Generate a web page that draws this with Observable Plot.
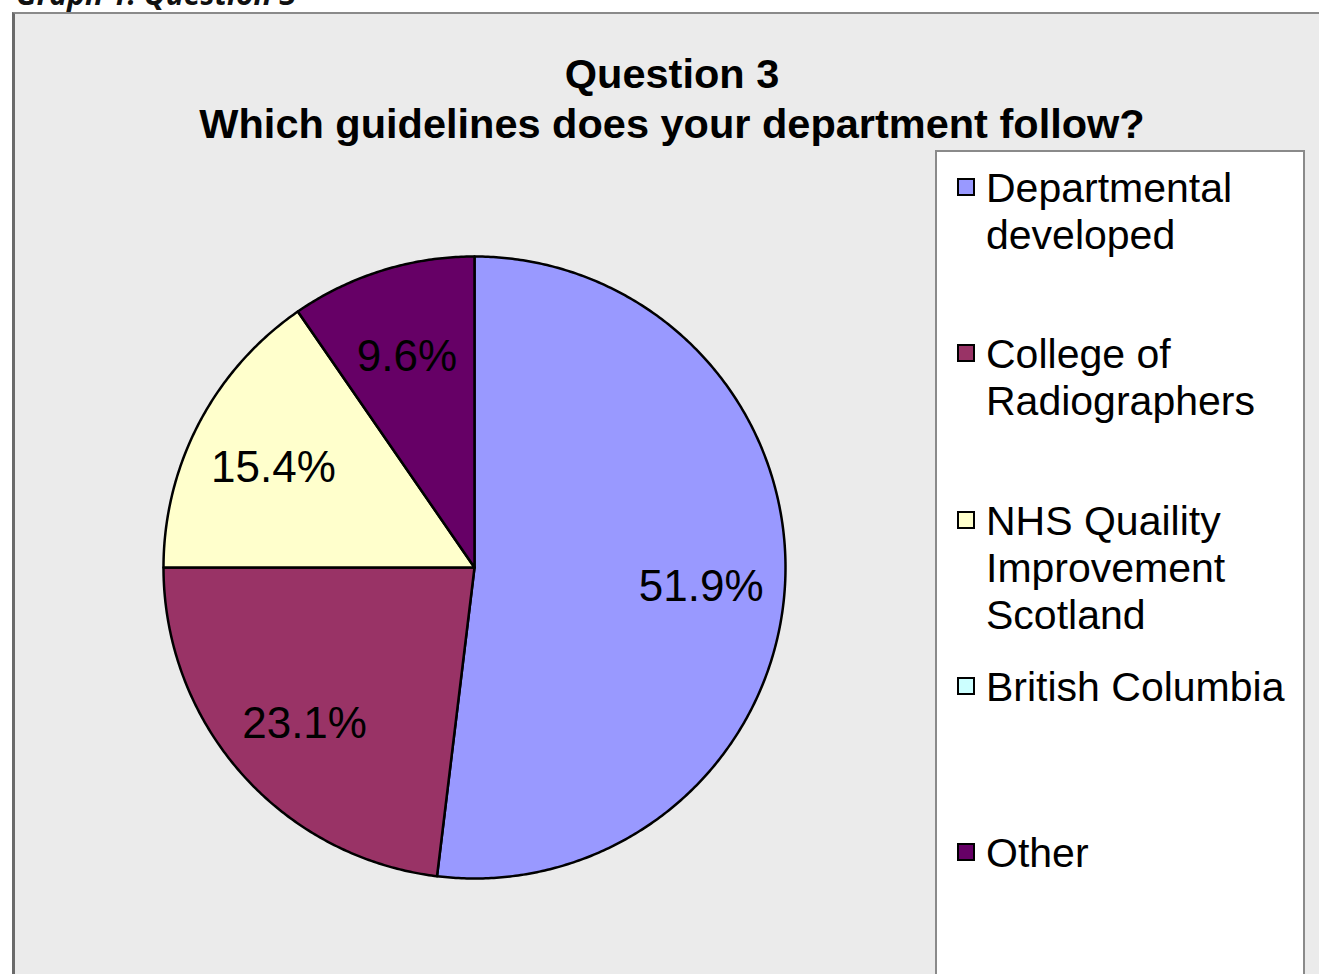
<!DOCTYPE html>
<html>
<head>
<meta charset="utf-8">
<script src="https://cdn.jsdelivr.net/npm/d3@7"></script>
<script src="https://cdn.jsdelivr.net/npm/@observablehq/plot@0.6"></script>
<style>
  html, body { margin: 0; padding: 0; background: #fff; width: 1319px; height: 974px; overflow: hidden; }
  body { position: relative; font-family: "Liberation Sans", Arial, Helvetica, sans-serif; }
  #topcap { position: absolute; left: 16px; top: -27px; font-family: "Open Sans", sans-serif; font-weight: 700; font-style: italic; font-size: 30px; line-height: normal; color: #111; white-space: nowrap; }
  #frame { position: absolute; left: 12px; top: 12px; width: 1320px; height: 1000px; background: #ebebeb; border-top: 2px solid #8a8a8a; border-left: 3px solid #6a6a6a; box-sizing: border-box; }
  .title { position: absolute; left: 12px; width: 1320px; text-align: center; font-family: "Liberation Sans", Arial, sans-serif; font-weight: 700; font-size: 41.5px; color: #000; white-space: nowrap; }
  #legend { position: absolute; left: 935px; top: 150px; width: 370px; height: 900px; background: #fff; border: 2px solid #8a8a8a; box-sizing: border-box; }
  .item { position: absolute; left: 986px; font-family: "Liberation Sans", Arial, sans-serif; font-size: 41px; line-height: 47px; color: #000; white-space: nowrap; }
  .sw { position: absolute; left: 957px; width: 18px; height: 18px; border: 2.5px solid #000; box-sizing: border-box; }
  #pie { position: absolute; left: 154px; top: 247px; }
</style>
</head>
<body>
<div id="topcap">Graph 1: Question 3</div>
<div id="frame"></div>
<div class="title" style="top:50px">Question 3</div>
<div class="title" style="top:100px">Which guidelines does your department follow?</div>
<div id="legend"></div>
<div id="pie"></div>
<script>
// ---- data ----
const categories = ["Departmental developed", "College of Radiographers", "NHS Quaility Improvement Scotland", "British Columbia", "Other"];
const legendLines = [["Departmental", "developed"], ["College of", "Radiographers"], ["NHS Quaility", "Improvement", "Scotland"], ["British Columbia"], ["Other"]];
const counts = [27, 12, 8, 0, 5];
const percentLabels = ["51.9%", "23.1%", "15.4%", "0.0%", "9.6%"];
const colors = ["#9999ff", "#993366", "#ffffcc", "#ccffff", "#660066"];

// ---- pie geometry from the values ----
const arcs = d3.pie().sort(null).value(d => d)(counts);
const outline = [];
const labels = [];
arcs.forEach((a, i) => {
  if (counts[i] <= 0) return;
  const cat = categories[i];
  outline.push({cat, x: 0, y: 0});
  const n = Math.max(2, Math.ceil((a.endAngle - a.startAngle) / (Math.PI / 360)));
  for (let k = 0; k <= n; k++) {
    const t = a.startAngle + (a.endAngle - a.startAngle) * k / n;
    outline.push({cat, x: Math.sin(t), y: Math.cos(t)});
  }
  outline.push({cat, x: 0, y: 0});
  const m = (a.startAngle + a.endAngle) / 2;
  labels.push({cat, x: 0.73 * Math.sin(m), y: 0.73 * Math.cos(m), text: percentLabels[i]});
});

const size = 640, m = 9;
const chart = Plot.plot({
  width: size, height: size,
  margin: m,
  style: {background: "transparent", overflow: "visible"},
  x: {domain: [-1, 1], axis: null},
  y: {domain: [-1, 1], axis: null},
  color: {domain: categories, range: colors},
  marks: [
    Plot.line(outline, {x: "x", y: "y", z: "cat", fill: "cat", stroke: "#000", strokeWidth: 2.5, strokeLinejoin: "round", curve: "linear"}),
    Plot.text(labels, {x: "x", y: "y", text: "text", fontSize: 44, fill: "#000", fontFamily: "Liberation Sans, Arial, sans-serif", dy: 6})
  ]
});
document.getElementById("pie").appendChild(chart);

// ---- legend ----
const firstBaseline = 199, step = 166.25;
categories.forEach((c, i) => {
  const base = firstBaseline + i * step;
  const item = document.createElement("div");
  item.className = "item";
  item.style.top = (base - 34) + "px";
  item.innerHTML = legendLines[i].map(s => `<div>${s}</div>`).join("");
  document.body.appendChild(item);
  const sw = document.createElement("div");
  sw.className = "sw";
  sw.style.top = (base - 21) + "px";
  sw.style.background = colors[i];
  document.body.appendChild(sw);
});
</script>
</body>
</html>
